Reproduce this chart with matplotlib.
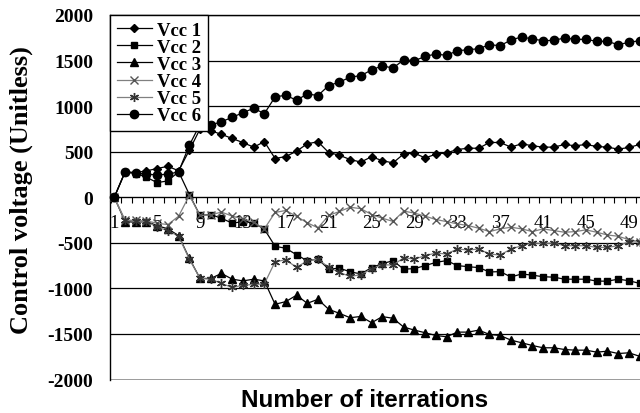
import matplotlib.pyplot as plt
import numpy as np
from matplotlib.ticker import FixedLocator, MultipleLocator

# Control voltage of each supply over the iterations
iterations = np.arange(1, 51)

vcc1 = [0, 275, 270, 290, 315, 340, 290, 515, 750, 730,
        690, 645, 600, 550, 610, 425, 447, 505, 587, 609,
        491, 461, 414, 386, 445, 401, 377, 476, 483, 432,
        472, 487, 524, 538, 538, 601, 601, 550, 587, 565,
        550, 550, 579, 565, 579, 557, 550, 528, 546, 579]
vcc2 = [0, 275, 260, 220, 160, 180, 280, 30, -200, -190,
        -230, -285, -267, -281, -350, -538, -560, -631, -697, -678,
        -789, -778, -818, -842, -772, -728, -697, -789, -783, -750,
        -715, -695, -750, -762, -772, -820, -816, -875, -842, -855,
        -872, -877, -899, -899, -899, -920, -921, -899, -916, -945]
vcc3 = [0, -267, -274, -267, -311, -347, -421, -671, -891, -891,
        -836, -899, -918, -899, -918, -1175, -1145, -1075, -1164, -1120,
        -1230, -1274, -1322, -1308, -1377, -1310, -1328, -1425, -1458, -1487,
        -1517, -1531, -1480, -1480, -1458, -1506, -1517, -1568, -1597, -1627,
        -1652, -1652, -1671, -1678, -1678, -1700, -1689, -1715, -1707, -1745]
vcc4 = [0, -250, -255, -260, -285, -300, -208, 20, -200, -193,
        -163, -207, -237, -274, -347, -167, -145, -210, -280, -336,
        -200, -156, -110, -125, -190, -230, -265, -152, -174, -207,
        -245, -267, -292, -311, -340, -377, -347, -329, -347, -377,
        -347, -366, -384, -377, -358, -384, -414, -428, -465, -487]
vcc5 = [0, -255, -260, -265, -329, -366, -428, -678, -891, -899,
        -946, -990, -965, -957, -950, -708, -686, -770, -697, -678,
        -770, -825, -869, -850, -787, -740, -745, -664, -678, -642,
        -612, -623, -568, -579, -568, -623, -634, -568, -532, -502,
        -506, -502, -532, -532, -532, -550, -550, -532, -487, -494]
vcc6 = [0, 278, 270, 250, 248, 251, 280, 571, 800, 792,
        829, 877, 928, 976, 918, 1101, 1120, 1064, 1134, 1116,
        1226, 1263, 1318, 1335, 1397, 1443, 1417, 1509, 1498, 1546,
        1572, 1557, 1608, 1619, 1630, 1674, 1663, 1726, 1759, 1737,
        1718, 1722, 1748, 1733, 1733, 1711, 1711, 1674, 1700, 1718]

labels = ['Vcc 1', 'Vcc 2', 'Vcc 3', 'Vcc 4', 'Vcc 5', 'Vcc 6']
series = [vcc1, vcc2, vcc3, vcc4, vcc5, vcc6]
markers = ['D', 's', '^', 'x', (6, 2, 0), 'o']
sizes = [4.5, 5, 5.5, 5.5, 6.5, 6]
line_colors = ['black', 'black', 'black', '#808080', '#808080', 'black']
marker_colors = ['black', 'black', 'black', '#555555', '#333333', 'black']

serif = 'Liberation Serif'
sans = 'Liberation Sans'
plt.rcParams['axes.unicode_minus'] = False

fig = plt.figure(figsize=(6.4, 4.14), dpi=100)
ax = fig.add_axes([110/640, 33.5/414, 536/640, 364.5/414])

for vals, lab, m, ms, lc, mc in zip(series, labels, markers, sizes, line_colors, marker_colors):
    ax.plot(iterations, vals, color=lc, lw=0.9, marker=m, ms=ms,
            mfc=mc, mec=mc, mew=1.0, label=lab, zorder=3, clip_on=False)

ax.set_xlim(0.6, 50.6)
ax.set_ylim(-2000, 2000)

# horizontal gridlines
ax.yaxis.set_major_locator(MultipleLocator(500))
ax.yaxis.grid(True, color='black', lw=0.9)
ax.set_axisbelow(True)

# category axis crossing at zero
ax.spines['bottom'].set_position(('data', 0))
ax.spines['right'].set_visible(False)
ax.spines['top'].set_linewidth(1.0)
ax.spines['left'].set_linewidth(1.0)
ax.axhline(-2000, color='#909090', lw=1.2, zorder=1)

ax.xaxis.set_major_locator(FixedLocator(np.arange(1, 50, 4)))
ax.xaxis.set_minor_locator(FixedLocator(np.arange(0.65, 51, 1)))
ax.tick_params(axis='x', which='major', length=0, pad=12, labelsize=13.5)
ax.tick_params(axis='x', which='minor', length=4.5, width=0.8, direction='out')
ax.tick_params(axis='y', length=0, pad=12, labelsize=14)
for t in ax.get_xticklabels():
    t.set_fontfamily(serif)
for t in ax.get_yticklabels():
    t.set_fontfamily(serif)
    t.set_fontweight('bold')

fig.text(21/640, 1 - 190/414, 'Control voltage (Unitless)', fontfamily=serif,
         fontweight='bold', fontsize=19, rotation=90, ha='center', va='center')
fig.text(365/640, 1 - 401/414, 'Number of iterrations', fontfamily=sans,
         fontweight='bold', fontsize=17.5, ha='center', va='center')

leg = ax.legend(loc='upper left', bbox_to_anchor=(0, 1), borderaxespad=0,
                fancybox=False, edgecolor='black', framealpha=1,
                prop={'family': serif, 'weight': 'bold', 'size': 13.5},
                handlelength=1.9, handletextpad=0.25, labelspacing=0.0,
                borderpad=0.35)
leg.get_frame().set_linewidth(1.0)
leg.set_zorder(5)

fig.savefig('out.png', dpi=100)
